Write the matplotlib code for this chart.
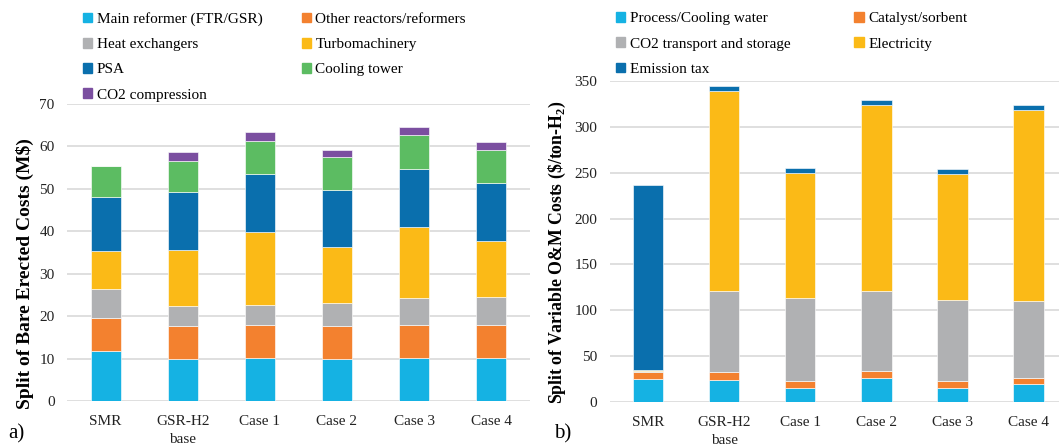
import matplotlib
matplotlib.use('Agg')
import matplotlib.pyplot as plt
from matplotlib.patches import Patch
import numpy as np

plt.rcParams['font.family'] = 'Liberation Serif'
plt.rcParams['mathtext.fontset'] = 'custom'
plt.rcParams['mathtext.rm'] = 'Liberation Serif'
plt.rcParams['mathtext.bf'] = 'Liberation Serif:bold'

cases = ['SMR', 'GSR-H2\nbase', 'Case 1', 'Case 2', 'Case 3', 'Case 4']

# bare erected cost split, M$
capex_labels = ['Main reformer (FTR/GSR)', 'Other reactors/reformers', 'Heat exchangers',
                'Turbomachinery', 'PSA', 'Cooling tower', 'CO2 compression']
main_reformer = [11.8, 9.8, 10.2, 9.8, 10.2, 10.2]
other_reactors = [7.8, 7.8, 7.8, 7.8, 7.8, 7.8]
heat_exchangers = [6.7, 4.7, 4.6, 5.5, 6.2, 6.5]
turbomachinery = [9.0, 13.2, 17.3, 13.1, 16.7, 13.1]
psa = [12.8, 13.7, 13.6, 13.5, 13.7, 13.8]
cooling_tower = [7.4, 7.3, 7.9, 7.8, 8.1, 7.7]
co2_compression = [0.0, 2.1, 2.1, 1.7, 2.0, 1.9]

# variable O&M cost split, $/ton-H2
opex_labels = ['Process/Cooling water', 'Catalyst/sorbent', 'CO2 transport and storage',
               'Electricity', 'Emission tax']
water = [25.0, 24.3, 15.3, 25.8, 15.3, 19.2]
catalyst = [7.3, 8.0, 7.9, 8.3, 7.9, 7.3]
co2_transport = [1.0, 88.6, 89.7, 86.8, 87.5, 83.5]
electricity = [2.0, 217.9, 137.3, 203.4, 137.7, 208.8]
emission_tax = [201.1, 5.8, 5.1, 5.0, 5.4, 4.7]

capex_colors = ['#15B2E3', '#F3812F', '#B0B1B3', '#FBBA17', '#0A6FAD', '#5CBC62', '#7B4FA0']
opex_colors = ['#15B2E3', '#F3812F', '#B0B1B3', '#FBBA17', '#0A6FAD']

fig = plt.figure(figsize=(10.59, 4.47), dpi=100)
ax1 = fig.add_axes([0.0633, 0.1029, 0.437, 0.6644])
ax2 = fig.add_axes([0.576, 0.1007, 0.424, 0.718])


def stacked(ax, series, colors, width):
    x = np.arange(len(cases))
    bottom = np.zeros(len(cases))
    for vals, c in zip(series, colors):
        vals = np.array(vals)
        ax.bar(x, vals, width, bottom=bottom, color=c, edgecolor=(1, 1, 1, 0.7),
               linewidth=0.6, zorder=3)
        bottom += vals
    ax.set_xticks(x)
    ax.set_xticklabels(cases, fontsize=11, linespacing=1.5)
    for s in ax.spines.values():
        s.set_visible(False)
    ax.tick_params(length=0, labelsize=11, colors='#222222')
    ax.tick_params(axis='x', pad=10)
    ax.tick_params(axis='y', pad=9)
    ax.yaxis.grid(True, color='#D9D9D9', linewidth=1.2, zorder=0)
    ax.set_axisbelow(True)


stacked(ax1, [main_reformer, other_reactors, heat_exchangers, turbomachinery,
              psa, cooling_tower, co2_compression], capex_colors, 0.39)
ax1.set_ylim(0, 70)
ax1.set_yticks(range(0, 71, 10))
ax1.set_xlim(-0.5, 5.5)
ax1.set_ylabel('Split of Bare Erected Costs (M$)', fontsize=14, fontweight='bold')
ax1.yaxis.set_label_coords(-0.072, 0.43)

stacked(ax2, [water, catalyst, co2_transport, electricity, emission_tax], opex_colors, 0.40)
ax2.set_ylim(0, 350)
ax2.set_yticks(range(0, 351, 50))
ax2.set_xlim(-0.5, 5.4)
ax2.set_ylabel(r'Split of Variable O&M Costs (\$/ton-H$_\mathbf{2}$)', fontsize=12.8,
               fontweight='bold')
ax2.yaxis.set_label_coords(-0.094, 0.466)

# legends filled column-wise, so reorder to read row by row
h1 = [Patch(color=c) for c in capex_colors]
order1 = [0, 2, 4, 6, 1, 3, 5]
fig.legend([h1[i] for i in order1], [capex_labels[i] for i in order1], ncol=2,
           loc='upper left', bbox_to_anchor=(0.067, 1.0), frameon=False, fontsize=11,
           handlelength=0.6, handleheight=0.6, handletextpad=0.3, labelspacing=0.78,
           columnspacing=2.55, borderpad=0.3)

h2 = [Patch(color=c) for c in opex_colors]
order2 = [0, 2, 4, 1, 3]
fig.legend([h2[i] for i in order2], [opex_labels[i] for i in order2], ncol=2,
           loc='upper left', bbox_to_anchor=(0.570, 1.0), frameon=False, fontsize=11,
           handlelength=0.6, handleheight=0.6, handletextpad=0.3, labelspacing=0.78,
           columnspacing=4.2, borderpad=0.3)

fig.text(0.008, 0.02, 'a)', fontsize=15)
fig.text(0.523, 0.02, 'b)', fontsize=15)

fig.savefig('out.png', dpi=100)
